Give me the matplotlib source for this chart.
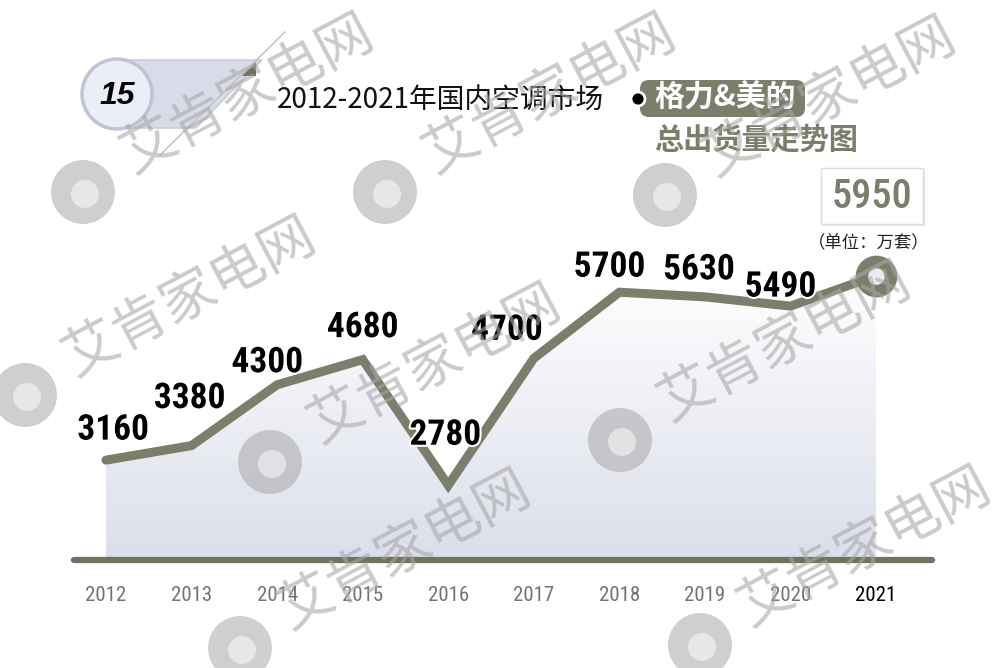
import numpy as np
import matplotlib
matplotlib.use("Agg")
import matplotlib.pyplot as plt
import matplotlib.patheffects as pe
from matplotlib import font_manager as fm
from matplotlib.patches import Circle, FancyBboxPatch, Polygon, Rectangle

# 数据
years = [2012, 2013, 2014, 2015, 2016, 2017, 2018, 2019, 2020, 2021]
shipments = [3160, 3380, 4300, 4680, 2780, 4700, 5700, 5630, 5490, 5950]
year_labels = [str(y) for y in years]
title_main = "2012-2021年国内空调市场"
title_tag = "格力&美的"
title_sub = "总出货量走势图"
unit_text = "（单位：万套）"
badge_text = "15"
watermark = "艾肯家电网"

# label offsets from the point, in pixels (dx, dy up)
label_offsets = [(7, 30), (-2, 47), (-10, 22), (0, 32), (-3, 50),
                 (-27, 28), (-10, 25), (-6, 27), (-10, 19)]

OLIVE = "#7a7e6a"
BASE = 1649

# pick a narrow font if one is installed
names = {f.name for f in fm.fontManager.ttflist}
NARROW, NUM_SIZE, BIG_SIZE = "Liberation Sans", 21, 24
for cand in ["Roboto Condensed", "Liberation Sans Narrow", "Open Sans Condensed"]:
    if cand in names:
        NARROW, NUM_SIZE, BIG_SIZE = cand, 25.5, 29
        break
CJK = ["Noto Sans CJK SC", "DejaVu Sans"]

fig = plt.figure(figsize=(10, 6.68), dpi=100)
fig.patch.set_facecolor("white")

# chart axes: bottom edge = baseline
ax = fig.add_axes([0, 108 / 668, 1, 560 / 668], zorder=1)
ax.set_xlim(2010.761, 2022.449)
ax.set_ylim(BASE, BASE + 560 / 0.0661)
for s in ax.spines.values():
    s.set_visible(False)
ax.set_facecolor("none")
ax.set_yticks([])
ax.set_xticks(years, year_labels)
ax.tick_params(axis="x", length=0, pad=19, labelsize=15, labelcolor="#737373")
for t in ax.get_xticklabels():
    t.set_fontfamily(NARROW)
ax.get_xticklabels()[-1].set_color("black")

# gradient fill under the line
fill = ax.fill_between(years, shipments, BASE, color="none", lw=0)
g = np.linspace(0, 1, 256)[:, None]
top = np.array([1.0, 1.0, 1.0])
bot = np.array([0.86, 0.87, 0.92])
rgb = top + (bot - top) * g[..., None]
im = ax.imshow(rgb, extent=[years[0], years[-1], BASE, max(shipments)],
               origin="upper", aspect="auto", zorder=1)
im.set_clip_path(fill.get_paths()[0], transform=ax.transData)

ax.axhline(BASE, xmin=0.074, xmax=0.932, color="#6f7360", lw=4.5,
           solid_capstyle="round", clip_on=False, zorder=3)

ax.plot(years, shipments, color=OLIVE, lw=6.5, solid_joinstyle="miter",
        solid_capstyle="round", zorder=4)
ax.plot(years[-1], shipments[-1], "o", ms=21, mfc="#ececec", mec=OLIVE,
        mew=9, zorder=5)

for x, v, off in zip(years[:-1], shipments[:-1], label_offsets):
    ax.annotate(str(v), (x, v), xytext=off, textcoords="offset pixels",
                ha="center", va="center", fontsize=NUM_SIZE, fontweight="bold",
                family=NARROW, color="black", zorder=6,
                path_effects=[pe.withStroke(linewidth=3, foreground="white")])

# decoration axes in pixel coordinates
deco = fig.add_axes([0, 0, 1, 1], zorder=2)
deco.set_xlim(0, 1000)
deco.set_ylim(668, 0)
deco.axis("off")
deco.set_facecolor("none")

# badge "15"
deco.add_patch(Polygon([(117, 60), (262, 60), (196, 128), (117, 128)],
                       closed=True, fc="#d9dce8", ec="#c3c6d6", lw=1, zorder=1))
deco.add_patch(Polygon([(256, 62), (256, 76), (242, 76)], closed=True,
                       fc="#6f7360", ec="none", zorder=2))
deco.plot([285, 160], [32, 155], color="#bfbfbf", lw=1, zorder=2)
deco.add_patch(Circle((117, 94), 35, fc="#eceef7", ec="#c0c3d4", lw=2.5, zorder=3))
deco.text(117, 96, badge_text, ha="center", va="center", fontsize=23,
          fontweight="bold", fontstyle="italic", family="Liberation Sans",
          color="black", zorder=4)

deco.text(277, 100, title_main, ha="left", va="center", fontsize=20,
          family=CJK, color="#111111")

deco.add_patch(FancyBboxPatch((640, 80), 165, 37,
                              boxstyle="round,pad=0,rounding_size=9",
                              fc=OLIVE, ec="none", zorder=1))
deco.add_patch(Circle((638, 99), 7, fc="black", ec="white", lw=2, zorder=2))
deco.text(725, 98, title_tag, ha="center", va="center", fontsize=21.5,
          fontweight="bold", family=CJK, color="white", zorder=3)
deco.text(756, 140, title_sub, ha="center", va="center", fontsize=21,
          fontweight="bold", family=CJK, color=OLIVE)

# value box for 2021
deco.add_patch(Rectangle((823, 170), 102, 56, fc="#e4e4e4", ec="none", zorder=1))
deco.add_patch(Rectangle((821, 168), 102, 56, fc="white", ec="#dddddd",
                         lw=1, zorder=2))
deco.text(872, 197, str(shipments[-1]), ha="center", va="center",
          fontsize=BIG_SIZE, fontweight="medium", family=NARROW, color=OLIVE,
          zorder=3)
deco.text(869, 243, unit_text, ha="center", va="center", fontsize=12.5,
          family=CJK, color="#222222")

# watermark layer
wm = fig.add_axes([0, 0, 1, 1], zorder=10)
wm.set_xlim(0, 1000)
wm.set_ylim(668, 0)
wm.axis("off")
wm.set_facecolor("none")
logos = [(83, 192), (385, 192), (665, 195), (25, 395), (270, 462),
         (620, 440), (240, 648), (700, 645)]
for lx, ly in logos:
    wm.add_patch(Circle((lx, ly), 32, fc="#a8a8a8", ec="none", alpha=0.55))
    wm.add_patch(Circle((lx + 2, ly + 2), 14, fc="white", ec="none", alpha=0.5))
    wm.text(lx + 165, ly - 98, watermark, ha="center", va="center",
            fontsize=40, rotation=28, family=CJK, color="#a8a8a8", alpha=0.6)

fig.savefig("out.png", dpi=100)
